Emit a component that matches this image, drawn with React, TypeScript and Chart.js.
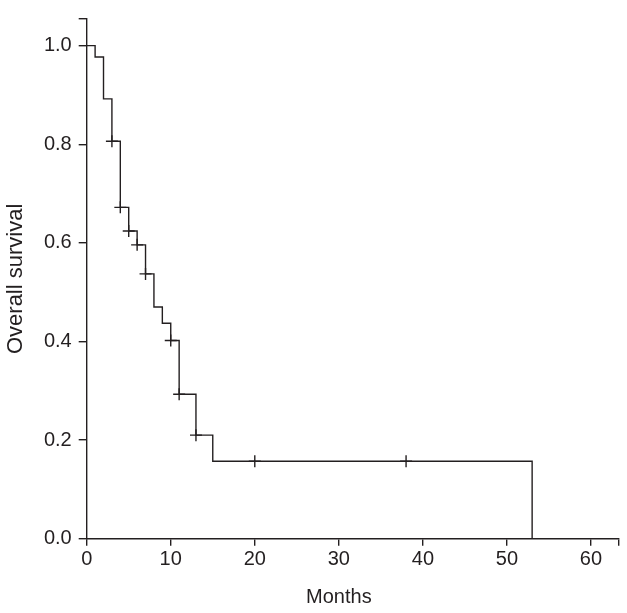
import React, { useEffect, useRef } from "react";
import { Chart, registerables } from "chart.js";

Chart.register(...registerables);

// Kaplan-Meier step points (month, survival after event)
const stepMonths = [0, 1, 2, 3, 4, 5, 6, 7, 8, 9, 10, 11, 13, 15, 53];
const stepSurvival = [1.0, 0.977, 0.892, 0.806, 0.672, 0.624, 0.596, 0.537, 0.470, 0.437, 0.402, 0.293, 0.210, 0.157, 0.0];

// Censored observations
const censorMonths = [3, 4, 5, 6, 7, 10, 11, 13, 20, 38];
const censorSurvival = [0.806, 0.672, 0.624, 0.596, 0.537, 0.402, 0.293, 0.210, 0.157, 0.157];

// Axes
const xTickValues = [0, 10, 20, 30, 40, 50, 60, 63.3];
const xTickLabels = ["0", "10", "20", "30", "40", "50", "60", ""];
const yTickValues = [0, 0.2, 0.4, 0.6, 0.8, 1.0, 1.054];
const yTickLabels = ["0.0", "0.2", "0.4", "0.6", "0.8", "1.0", ""];
const xTitle = "Months";
const yTitle = "Overall survival";

const INK = "#231f20";
const FONT = "'Liberation Sans', Arial, Helvetica, sans-serif";

export default function App() {
  const ref = useRef<HTMLCanvasElement | null>(null);

  useEffect(() => {
    if (!ref.current) return;
    const xTitlePlugin = {
      id: "xTitlePlugin",
      afterDraw(chart: any) {
        const ctx = chart.ctx;
        const xs = chart.scales.x;
        ctx.save();
        ctx.fillStyle = INK;
        ctx.font = `20px ${FONT}`;
        ctx.textAlign = "center";
        ctx.textBaseline = "middle";
        ctx.fillText(xTitle, xs.getPixelForValue(30), 597);
        ctx.restore();
      },
    };
    const chart = new Chart(ref.current, {
      type: "line",
      data: {
        datasets: [
          {
            data: stepMonths.map((m, i) => ({ x: m, y: stepSurvival[i] })),
            stepped: "before",
            borderColor: INK,
            borderWidth: 1.4,
            pointRadius: 0,
            fill: false,
          },
          {
            data: censorMonths.map((m, i) => ({ x: m, y: censorSurvival[i] })),
            showLine: false,
            pointStyle: "cross",
            pointRadius: 6,
            pointBorderColor: INK,
            pointBorderWidth: 1.4,
          },
        ],
      },
      options: {
        animation: false,
        responsive: false,
        maintainAspectRatio: false,
        layout: { padding: { top: 6.7, right: 8.3, left: 0, bottom: 0 } },
        plugins: { legend: { display: false }, tooltip: { enabled: false } },
        scales: {
          x: {
            type: "linear",
            min: 0,
            max: 63.3,
            afterBuildTicks: (s: any) => {
              s.ticks = xTickValues.map((v) => ({ value: v }));
            },
            afterFit: (s: any) => {
              s.height = 74.3;
            },
            ticks: {
              autoSkip: false,
              maxRotation: 0,
              color: INK,
              font: { family: FONT, size: 20 },
              padding: 2,
              callback: (v: any) => {
                const i = xTickValues.indexOf(v);
                return i >= 0 ? xTickLabels[i] : "";
              },
            },
            grid: { drawOnChartArea: false, drawTicks: true, tickLength: 7, color: INK, lineWidth: 1.4 },
            border: { color: INK, width: 1.4 },
          },
          y: {
            type: "linear",
            min: 0,
            max: 1.054,
            afterBuildTicks: (s: any) => {
              s.ticks = yTickValues.map((v) => ({ value: v }));
            },
            afterFit: (s: any) => {
              s.width = 86.7;
            },
            ticks: {
              autoSkip: false,
              color: INK,
              font: { family: FONT, size: 20 },
              padding: 7,
              callback: (v: any) => {
                const i = yTickValues.indexOf(v);
                return i >= 0 ? yTickLabels[i] : "";
              },
            },
            title: {
              display: true,
              text: yTitle,
              color: INK,
              font: { family: FONT, size: 22 },
              padding: { top: 3, bottom: 0 },
            },
            grid: { drawOnChartArea: false, drawTicks: true, tickLength: 8, color: INK, lineWidth: 1.4 },
            border: { color: INK, width: 1.4 },
          },
        },
      },
      plugins: [xTitlePlugin],
    } as any);
    return () => chart.destroy();
  }, []);

  return (
    <div style={{ position: "absolute", left: 0, top: 0, width: 627, height: 613, background: "#fff" }}>
      <canvas ref={ref} width={627} height={613} style={{ display: "block" }} />
    </div>
  );
}
